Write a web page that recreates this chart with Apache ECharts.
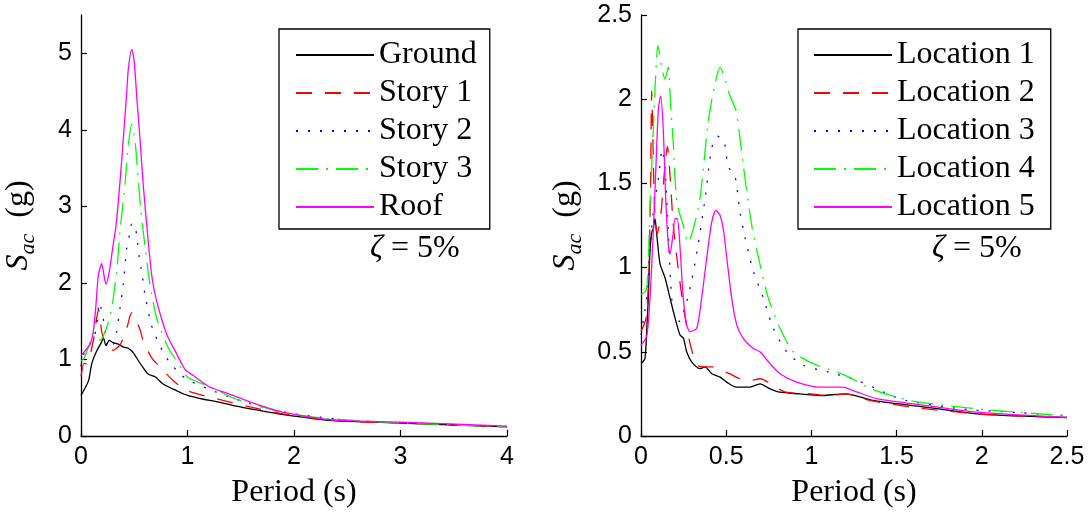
<!DOCTYPE html>
<html>
<head>
<meta charset="utf-8">
<script src="https://cdn.jsdelivr.net/npm/echarts@6/dist/echarts.min.js"></script>
<style>
html,body{margin:0;padding:0;background:#fff;}
#chart{width:1092px;height:514px;}
</style>
</head>
<body>
<div id="chart"></div>
<script>
// ---------- DATA (left panel: floors) ----------
var leftNames = ['Ground', 'Story 1', 'Story 2', 'Story 3', 'Roof'];
var groundT = [0, 0.07, 0.1, 0.147, 0.19, 0.21, 0.235, 0.266, 0.3, 0.35, 0.4, 0.44, 0.49, 0.54, 0.585, 0.63, 0.7, 0.77, 0.9, 1.0, 1.15, 1.27, 1.46, 1.65, 1.9, 2.37, 3.0, 4.0];
var groundS = [0.53, 0.72, 0.94, 1.11, 1.22, 1.28, 1.18, 1.25, 1.22, 1.20, 1.16, 1.15, 1.09, 0.98, 0.89, 0.81, 0.77, 0.68, 0.59, 0.53, 0.48, 0.45, 0.39, 0.34, 0.28, 0.20, 0.17, 0.12];
var story1T = [0, 0.03, 0.053, 0.116, 0.147, 0.165, 0.194, 0.23, 0.3, 0.366, 0.43, 0.476, 0.554, 0.585, 0.664, 0.742, 0.87, 1.0, 1.35, 1.62, 1.9, 2.4, 3.0, 4.0];
var story1S = [0.78, 0.95, 0.94, 1.25, 1.54, 1.65, 1.37, 1.2, 1.12, 1.19, 1.41, 1.61, 1.39, 1.24, 1.02, 0.9, 0.72, 0.59, 0.46, 0.37, 0.29, 0.2, 0.17, 0.12];
var story2T = [0, 0.02, 0.07, 0.12, 0.147, 0.172, 0.219, 0.257, 0.303, 0.335, 0.366, 0.397, 0.429, 0.454, 0.476, 0.5, 0.523, 0.548, 0.57, 0.6, 0.648, 0.68, 0.773, 0.836, 0.93, 1.02, 1.24, 1.46, 1.7, 2.0, 2.5, 3.0, 4.0];
var story2S = [0.91, 1.05, 1.18, 1.28, 1.44, 1.74, 1.46, 1.15, 1.19, 1.37, 1.67, 1.98, 2.45, 2.62, 2.77, 2.77, 2.62, 2.32, 2.15, 1.85, 1.52, 1.37, 1.09, 0.96, 0.81, 0.72, 0.59, 0.48, 0.38, 0.29, 0.21, 0.17, 0.12];
var story3T = [0, 0.03, 0.08, 0.13, 0.18, 0.24, 0.288, 0.335, 0.366, 0.413, 0.444, 0.476, 0.507, 0.538, 0.56, 0.6, 0.648, 0.711, 0.82, 0.9, 1.0, 1.18, 1.46, 1.59, 1.8, 2.1, 2.5, 3.0, 4.0];
var story3S = [0.98, 1.02, 1.2, 1.35, 1.25, 1.41, 1.67, 2.15, 2.67, 3.29, 3.79, 4.07, 3.86, 3.34, 2.97, 2.49, 1.98, 1.54, 1.15, 0.98, 0.77, 0.66, 0.48, 0.43, 0.34, 0.26, 0.21, 0.17, 0.12];
var roofT = [0, 0.085, 0.116, 0.141, 0.163, 0.194, 0.216, 0.235, 0.266, 0.297, 0.329, 0.366, 0.397, 0.429, 0.444, 0.476, 0.498, 0.523, 0.554, 0.585, 0.623, 0.664, 0.711, 0.773, 0.82, 0.9, 0.977, 1.055, 1.21, 1.37, 1.56, 1.77, 1.9, 2.37, 3.0, 4.0];
var roofS = [1.05, 1.2, 1.37, 1.72, 2.1, 2.25, 2.1, 1.98, 2.15, 2.45, 2.75, 3.32, 3.88, 4.48, 4.79, 5.05, 4.92, 4.44, 3.88, 3.27, 2.67, 2.1, 1.76, 1.46, 1.28, 1.07, 0.87, 0.79, 0.64, 0.56, 0.46, 0.36, 0.31, 0.21, 0.18, 0.13];

// ---------- DATA (right panel: locations) ----------
var rightNames = ['Location 1', 'Location 2', 'Location 3', 'Location 4', 'Location 5'];
var loc1T = [0, 0.023, 0.033, 0.043, 0.053, 0.063, 0.072, 0.082, 0.096, 0.112, 0.141, 0.17, 0.2, 0.229, 0.249, 0.268, 0.297, 0.346, 0.375, 0.415, 0.464, 0.503, 0.56, 0.64, 0.698, 0.757, 0.816, 0.93, 1.05, 1.2, 1.37, 1.68, 1.99, 2.5];
var loc1S = [0.43, 0.46, 0.62, 0.82, 1.10, 1.21, 1.23, 1.29, 1.16, 1.02, 0.94, 0.82, 0.70, 0.60, 0.58, 0.50, 0.44, 0.40, 0.41, 0.37, 0.35, 0.32, 0.29, 0.29, 0.31, 0.28, 0.26, 0.25, 0.24, 0.25, 0.21, 0.17, 0.13, 0.11];
var loc2T = [0, 0.03, 0.045, 0.055, 0.063, 0.07, 0.08, 0.095, 0.115, 0.14, 0.155, 0.17, 0.19, 0.22, 0.25, 0.29, 0.33, 0.37, 0.42, 0.47, 0.52, 0.58, 0.64, 0.7, 0.76, 0.85, 1.0, 1.1, 1.2, 1.35, 1.6, 2.0, 2.5];
var loc2S = [0.62, 0.70, 0.95, 1.4, 2.05, 1.75, 1.35, 1.2, 1.3, 1.6, 1.72, 1.55, 1.25, 0.98, 0.76, 0.54, 0.42, 0.41, 0.41, 0.39, 0.37, 0.34, 0.33, 0.34, 0.31, 0.26, 0.25, 0.24, 0.25, 0.21, 0.17, 0.13, 0.11];
var loc3T = [0, 0.033, 0.053, 0.072, 0.102, 0.125, 0.14, 0.16, 0.18, 0.2, 0.229, 0.258, 0.297, 0.336, 0.376, 0.415, 0.45, 0.487, 0.512, 0.552, 0.581, 0.61, 0.659, 0.718, 0.776, 0.855, 0.953, 1.1, 1.27, 1.47, 1.56, 1.89, 2.2, 2.5];
var loc3S = [0.6, 0.82, 1.11, 1.33, 1.53, 1.70, 1.61, 1.21, 0.82, 0.70, 0.68, 0.76, 0.92, 1.14, 1.41, 1.71, 1.78, 1.75, 1.60, 1.54, 1.33, 1.18, 0.98, 0.82, 0.64, 0.50, 0.42, 0.38, 0.33, 0.24, 0.21, 0.16, 0.14, 0.12];
var loc4T = [0, 0.033, 0.053, 0.072, 0.082, 0.1, 0.121, 0.141, 0.16, 0.174, 0.19, 0.21, 0.248, 0.278, 0.307, 0.346, 0.395, 0.434, 0.464, 0.489, 0.522, 0.558, 0.6, 0.65, 0.698, 0.747, 0.816, 0.894, 1.01, 1.2, 1.35, 1.58, 1.89, 2.09, 2.5];
var loc4S = [0.84, 0.87, 1.37, 1.81, 2.06, 2.32, 2.19, 2.12, 2.19, 1.96, 1.73, 1.39, 1.25, 1.15, 1.23, 1.41, 1.87, 2.09, 2.19, 2.13, 2.02, 1.93, 1.61, 1.25, 1.02, 0.82, 0.64, 0.50, 0.43, 0.36, 0.28, 0.21, 0.17, 0.15, 0.12];
var loc5T = [0, 0.033, 0.053, 0.072, 0.088, 0.102, 0.115, 0.131, 0.145, 0.16, 0.17, 0.186, 0.2, 0.213, 0.229, 0.248, 0.268, 0.288, 0.327, 0.356, 0.386, 0.415, 0.44, 0.464, 0.483, 0.503, 0.532, 0.562, 0.6, 0.659, 0.698, 0.757, 0.816, 0.914, 1.05, 1.18, 1.27, 1.39, 1.68, 1.99, 2.5];
var loc5S = [0.54, 0.59, 0.82, 1.21, 1.61, 1.94, 2.02, 1.81, 1.41, 1.14, 1.08, 1.18, 1.29, 1.29, 1.12, 0.82, 0.66, 0.62, 0.64, 0.82, 1.06, 1.27, 1.34, 1.31, 1.23, 1.06, 0.82, 0.66, 0.58, 0.52, 0.50, 0.43, 0.37, 0.32, 0.29, 0.29, 0.26, 0.22, 0.18, 0.14, 0.11];

// ---------- tick labels ----------
var leftXTicks = [0, 1, 2, 3, 4];
var leftYTicks = [0, 1, 2, 3, 4, 5];
var rightXTicks = [0, 0.5, 1, 1.5, 2, 2.5];
var rightYTicks = [0, 0.5, 1, 1.5, 2, 2.5];

// ---------- styling ----------
var SERIF = "'Liberation Serif','Times New Roman',serif";
var SANS = "'Liberation Sans',Arial,Helvetica,sans-serif";
var colors = ['#000000', '#ff0000', '#0000ff', '#00ff00', '#ff00ff'];
var dashes = ['solid', [16, 13], [2, 10], [22, 8, 2, 8], 'solid'];

function zip(t, s) { return t.map(function (v, i) { return [v, s[i]]; }); }

var leftSets = [[groundT, groundS], [story1T, story1S], [story2T, story2S], [story3T, story3S], [roofT, roofS]];
var rightSets = [[loc1T, loc1S], [loc2T, loc2S], [loc3T, loc3S], [loc4T, loc4S], [loc5T, loc5S]];

var series = [];
leftSets.forEach(function (d, i) {
  series.push({
    name: leftNames[i], type: 'line', xAxisIndex: 0, yAxisIndex: 0,
    data: zip(d[0], d[1]), symbol: 'none', smooth: 0.25, silent: true,
    lineStyle: { color: colors[i], width: 1.3, type: dashes[i] },
    itemStyle: { color: colors[i] }
  });
});
rightSets.forEach(function (d, i) {
  series.push({
    name: rightNames[i], type: 'line', xAxisIndex: 1, yAxisIndex: 1,
    data: zip(d[0], d[1]), symbol: 'none', smooth: 0.25, silent: true,
    lineStyle: { color: colors[i], width: 1.3, type: dashes[i] },
    itemStyle: { color: colors[i] }
  });
});

var axisLineStyle = { show: true, lineStyle: { color: '#000', width: 1.3 } };
var tickStyle = { show: true, inside: true, length: 6, lineStyle: { color: '#000', width: 1.2 } };
var labelStyle = { color: '#000', fontFamily: SANS, fontSize: 25, margin: 9 };

var yNameStyle = {
  color: '#000', fontFamily: SERIF, fontSize: 32,
  rich: {
    s: { fontFamily: SERIF, fontSize: 32, fontStyle: 'italic', color: '#000', verticalAlign: 'top' },
    sub: { fontFamily: SERIF, fontSize: 22, fontStyle: 'italic', color: '#000', verticalAlign: 'top', padding: [14, 0, 0, 0] },
    n: { fontFamily: SERIF, fontSize: 32, color: '#000', verticalAlign: 'top' }
  }
};
var xNameStyle = { color: '#000', fontFamily: SERIF, fontSize: 32 };

function xAxis(idx, max, interval, ticks) {
  return {
    type: 'value', gridIndex: idx, min: 0, max: max, interval: interval,
    name: 'Period (s)', nameLocation: 'middle', nameGap: 41, nameTextStyle: xNameStyle,
    axisLine: axisLineStyle, axisTick: Object.assign({ customValues: ticks }, tickStyle),
    axisLabel: Object.assign({ customValues: ticks }, labelStyle),
    splitLine: { show: false }
  };
}
function yAxis(idx, max, interval, ticks, gap) {
  return {
    type: 'value', gridIndex: idx, min: 0, max: max, interval: interval,
    name: '{s|S}{sub|ac}{n|  (g)}', nameLocation: 'middle', nameRotate: 90, nameGap: gap,
    nameTextStyle: yNameStyle,
    axisLine: axisLineStyle, axisTick: Object.assign({ customValues: ticks }, tickStyle),
    axisLabel: Object.assign({ customValues: ticks }, labelStyle),
    splitLine: { show: false }
  };
}

var legendBase = {
  orient: 'vertical', top: 29, itemWidth: 78, itemHeight: 14, itemGap: 6, itemTextGap: 9,
  borderColor: '#000', borderWidth: 1.3, backgroundColor: '#fff', borderRadius: 0,
  itemStyle: { opacity: 0 },
  textStyle: { color: '#000', fontFamily: SERIF, fontSize: 32 },
  selectedMode: false
};

var option = {
  animation: false,
  backgroundColor: '#fff',
  grid: [
    { left: 81, top: 15, width: 426, height: 424, containLabel: false },
    { left: 641, top: 15, width: 426, height: 424, containLabel: false }
  ],
  xAxis: [xAxis(0, 4, 1, leftXTicks), xAxis(1, 2.5, 0.5, rightXTicks)],
  yAxis: [yAxis(0, 5.5, 1, leftYTicks, 42), yAxis(1, 2.5, 0.5, rightYTicks, 55)],
  legend: [
    Object.assign({}, legendBase, { left: 279, data: leftNames, padding: [10, 13, 6, 16] }),
    Object.assign({}, legendBase, { left: 798, data: rightNames, padding: [10, 16, 6, 15] })
  ],
  graphic: [
    { type: 'text', x: 370, y: 249, silent: true, z: 100,
      style: { text: '{z|ζ} = 5%', fill: '#000', font: '32px ' + SERIF, verticalAlign: 'middle',
        rich: { z: { fontFamily: SERIF, fontSize: 32, fontStyle: 'italic', fill: '#000' } } } },
    { type: 'text', x: 932, y: 249, silent: true, z: 100,
      style: { text: '{z|ζ} = 5%', fill: '#000', font: '32px ' + SERIF, verticalAlign: 'middle',
        rich: { z: { fontFamily: SERIF, fontSize: 32, fontStyle: 'italic', fill: '#000' } } } }
  ],
  series: series
};

var chart = echarts.init(document.getElementById('chart'), null, { renderer: 'canvas' });
chart.setOption(option);
</script>
</body>
</html>
